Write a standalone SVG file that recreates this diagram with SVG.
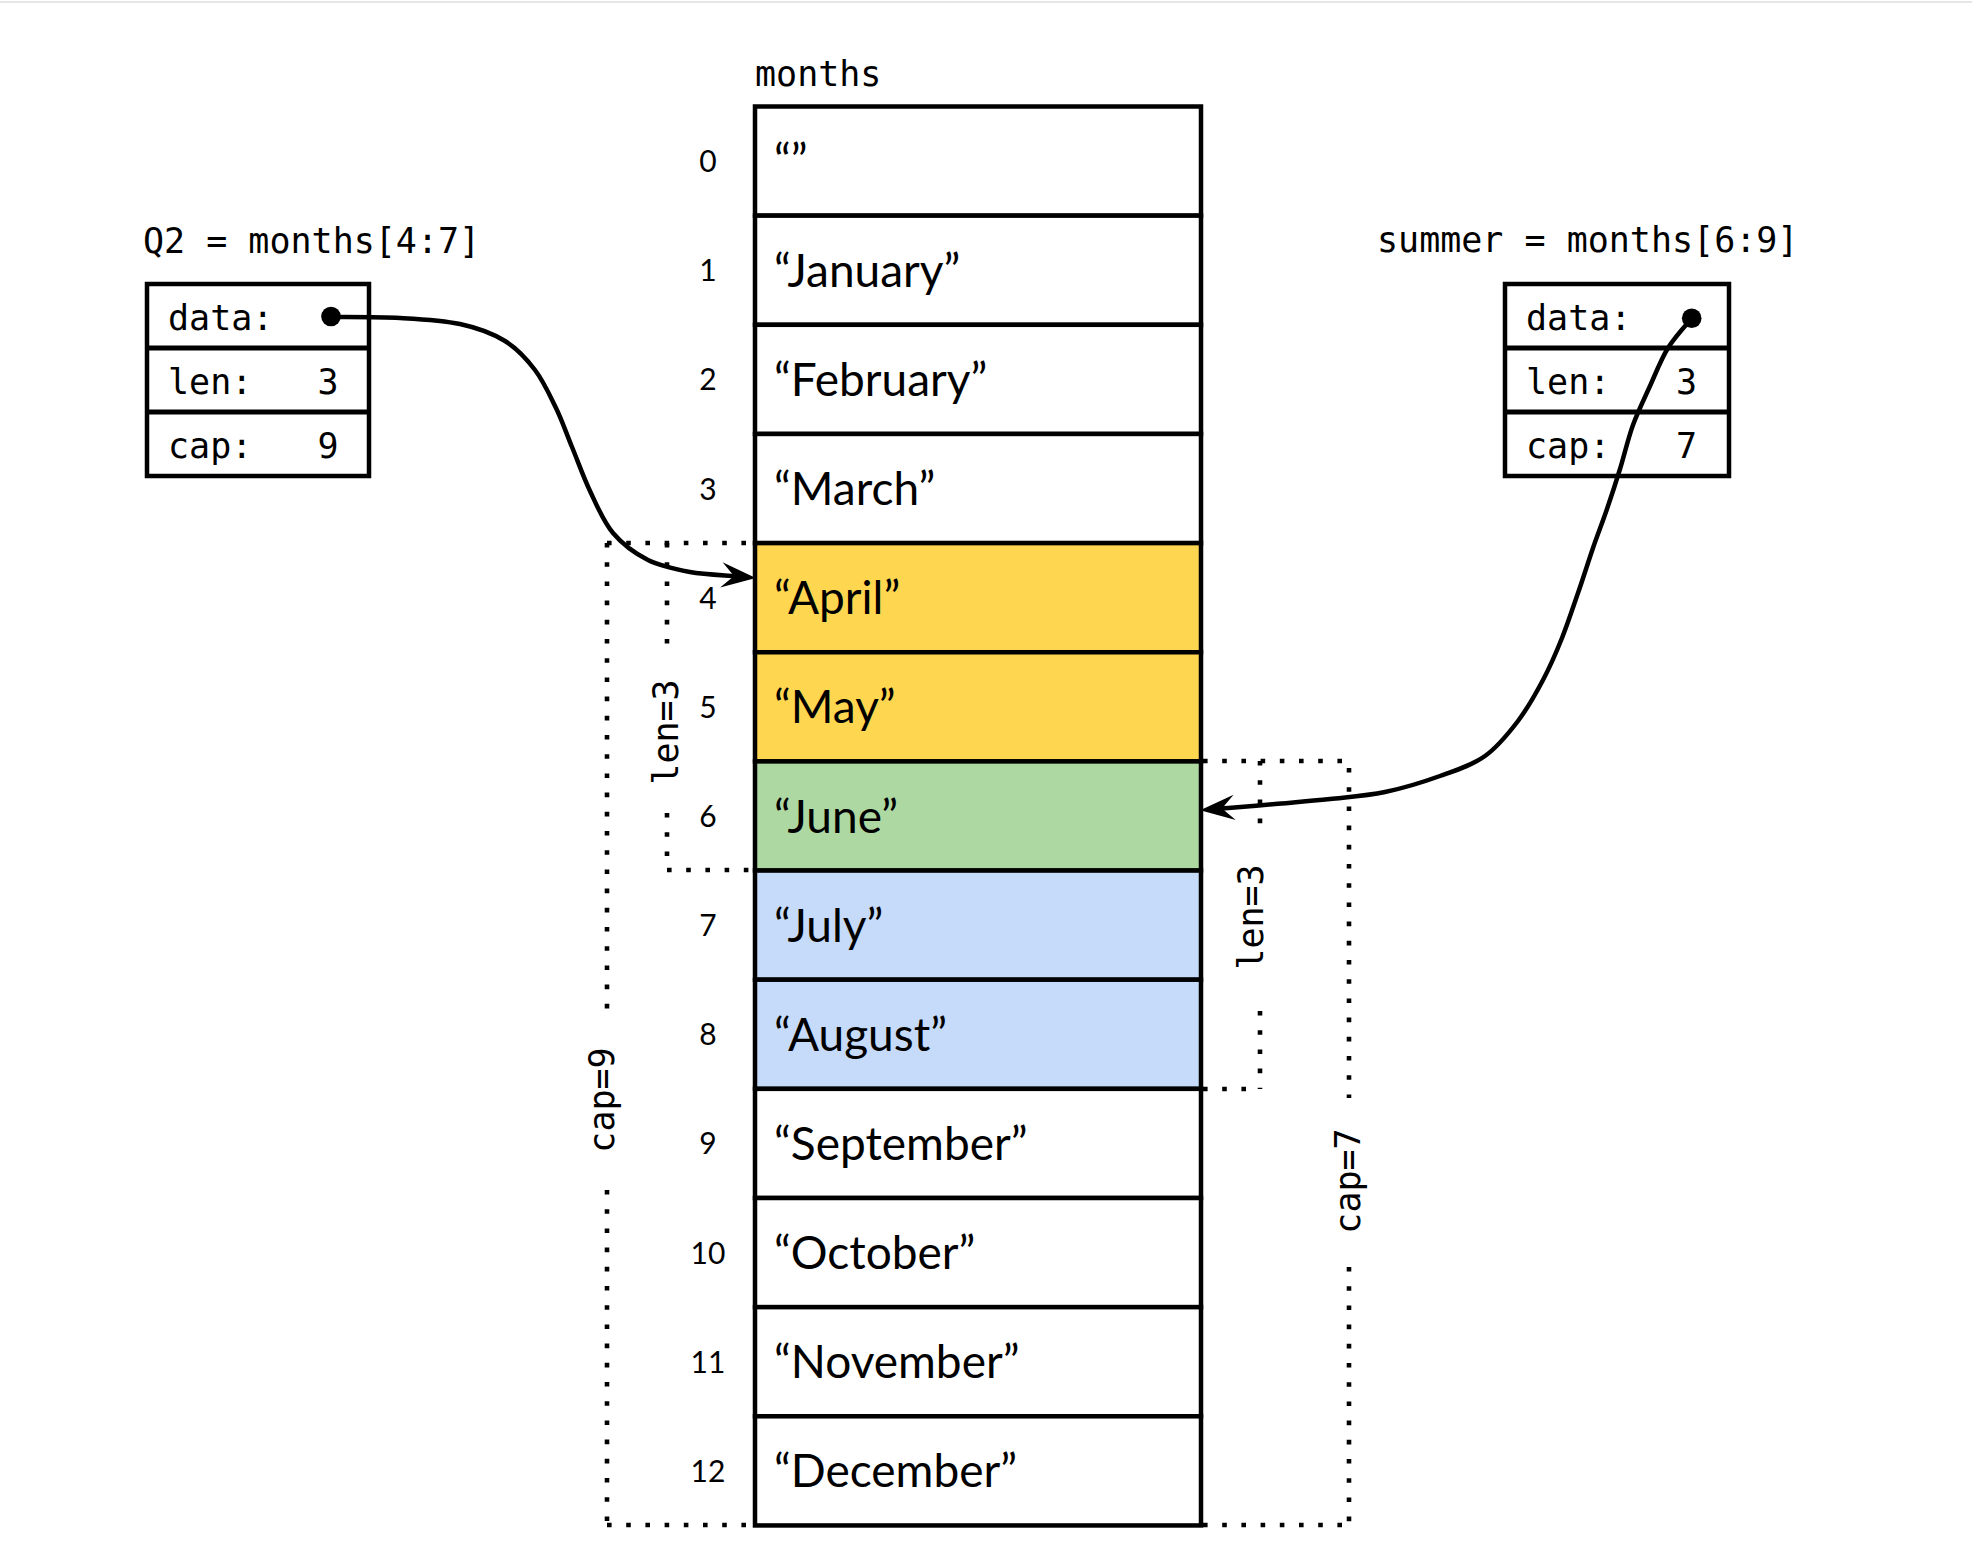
<svg xmlns="http://www.w3.org/2000/svg" width="1972" height="1556" viewBox="0 0 1972 1556">
<style>
.mono{font-family:"DejaVu Sans Mono","Liberation Mono",monospace;font-size:35px;fill:#000}
.lato{font-family:Lato,"Liberation Sans",sans-serif;fill:#000}
.month{font-size:46px}
.idx{font-size:30px;text-anchor:middle}
.cell{stroke:#000;stroke-width:4.5;fill:#fff}
.box{stroke:#000;stroke-width:4.5;fill:#fff}
.dot{fill:none;stroke:#000;stroke-width:4.6;stroke-dasharray:4.6 14.6}
.conn{fill:none;stroke:#000;stroke-width:4.5}
.val{text-anchor:middle}
</style>
<defs>
<marker id="arr" markerUnits="userSpaceOnUse" markerWidth="40" markerHeight="30" viewBox="-12 -13 34 26" refX="0" refY="0" orient="auto">
<path d="M19,0 L-11,-11 L0,0 L-11,11 Z" fill="#000"/>
</marker>
</defs>
<rect x="0" y="0" width="1972" height="1556" fill="#fff"/>
<line x1="0" y1="2" x2="1972" y2="2" stroke="#e6e6e6" stroke-width="2"/>

<g id="months">
<text class="mono" x="755" y="86">months</text>
<g id="row0"><rect class="cell" x="755" y="106.5" width="446" height="109.15"/><text class="lato idx" x="708" y="172">0</text><text class="lato month" x="774" y="177">“”</text></g>
<g id="row1"><rect class="cell" x="755" y="215.65" width="446" height="109.15"/><text class="lato idx" x="708" y="281">1</text><text class="lato month" x="774" y="286.5">“January”</text></g>
<g id="row2"><rect class="cell" x="755" y="324.8" width="446" height="109.15"/><text class="lato idx" x="708" y="390">2</text><text class="lato month" x="774" y="395.5">“February”</text></g>
<g id="row3"><rect class="cell" x="755" y="433.95" width="446" height="109.15"/><text class="lato idx" x="708" y="499.5">3</text><text class="lato month" x="774" y="505">“March”</text></g>
<g id="row4"><rect class="cell" x="755" y="543.1" width="446" height="109.15" style="fill:#FFD64F"/><text class="lato idx" x="708" y="608.7">4</text><text class="lato month" x="774" y="614.2">“April”</text></g>
<g id="row5"><rect class="cell" x="755" y="652.25" width="446" height="109.15" style="fill:#FFD64F"/><text class="lato idx" x="708" y="717.8">5</text><text class="lato month" x="774" y="723.3">“May”</text></g>
<g id="row6"><rect class="cell" x="755" y="761.4" width="446" height="109.15" style="fill:#ADD8A2"/><text class="lato idx" x="708" y="827">6</text><text class="lato month" x="774" y="832.5">“June”</text></g>
<g id="row7"><rect class="cell" x="755" y="870.55" width="446" height="109.15" style="fill:#C6DBF9"/><text class="lato idx" x="708" y="936.1">7</text><text class="lato month" x="774" y="941.6">“July”</text></g>
<g id="row8"><rect class="cell" x="755" y="979.7" width="446" height="109.15" style="fill:#C6DBF9"/><text class="lato idx" x="708" y="1045.3">8</text><text class="lato month" x="774" y="1050.8">“August”</text></g>
<g id="row9"><rect class="cell" x="755" y="1088.85" width="446" height="109.15"/><text class="lato idx" x="708" y="1154.4">9</text><text class="lato month" x="774" y="1159.9">“September”</text></g>
<g id="row10"><rect class="cell" x="755" y="1198" width="446" height="109.15"/><text class="lato idx" x="708" y="1263.6">10</text><text class="lato month" x="774" y="1269.1">“October”</text></g>
<g id="row11"><rect class="cell" x="755" y="1307.15" width="446" height="109.15"/><text class="lato idx" x="708" y="1372.7">11</text><text class="lato month" x="774" y="1378.2">“November”</text></g>
<g id="row12"><rect class="cell" x="755" y="1416.3" width="446" height="109.15"/><text class="lato idx" x="708" y="1481.9">12</text><text class="lato month" x="774" y="1487.4">“December”</text></g>
</g>

<g id="q2">
<text class="mono" x="143" y="253">Q2 = months[4:7]</text>
<rect class="box" x="147" y="284" width="222" height="192"/>
<line x1="147" y1="348" x2="369" y2="348" stroke="#000" stroke-width="5"/>
<line x1="147" y1="412" x2="369" y2="412" stroke="#000" stroke-width="5"/>
<text class="mono" x="168" y="330">data:</text>
<text class="mono" x="168" y="394">len:</text>
<text class="mono val" x="328" y="394">3</text>
<text class="mono" x="168" y="458">cap:</text>
<text class="mono val" x="328" y="458">9</text>
<circle cx="331" cy="316.5" r="9.8" fill="#000"/>
</g>

<g id="summer">
<text class="mono" x="1377" y="252">summer = months[6:9]</text>
<rect class="box" x="1505" y="284" width="224" height="192"/>
<line x1="1505" y1="348" x2="1729" y2="348" stroke="#000" stroke-width="5"/>
<line x1="1505" y1="412" x2="1729" y2="412" stroke="#000" stroke-width="5"/>
<text class="mono" x="1526" y="330">data:</text>
<text class="mono" x="1526" y="394">len:</text>
<text class="mono val" x="1686.5" y="394">3</text>
<text class="mono" x="1526" y="458">cap:</text>
<text class="mono val" x="1686.5" y="458">7</text>
<circle cx="1691.7" cy="318.3" r="9.8" fill="#000"/>
</g>

<g id="q2-extent">
<path class="dot" d="M607,543 H752"/>
<path class="dot" d="M607,543 V1010"/>
<path class="dot" d="M607,1190 V1525"/>
<path class="dot" d="M607,1525 H752"/>
<text class="mono" text-anchor="middle" transform="translate(614,1100) rotate(-90)">cap=9</text>
<path class="dot" d="M667,543 V645"/>
<path class="dot" d="M667,813 V870"/>
<path class="dot" d="M667,870 H752"/>
<text class="mono" text-anchor="middle" transform="translate(678,732) rotate(-90)">len=3</text>
</g>

<g id="summer-extent">
<path class="dot" d="M1203,761 H1342"/>
<path class="dot" d="M1349,768 V1098"/>
<path class="dot" d="M1349,1267 V1525"/>
<path class="dot" d="M1203,1525 H1342"/>
<text class="mono" text-anchor="middle" transform="translate(1360,1181) rotate(-90)">cap=7</text>
<path class="dot" d="M1260,761 V824"/>
<path class="dot" d="M1260,1011 V1089"/>
<path class="dot" d="M1203,1089 H1260"/>
<text class="mono" text-anchor="middle" transform="translate(1263,917) rotate(-90)">len=3</text>
</g>

<g id="connectors">
<path class="conn" marker-end="url(#arr)" d="M331,317 C342.5,317.2 378.5,316.8 400,318 C421.5,319.2 442.5,320.2 460,324 C477.5,327.8 492.5,333.3 505,341 C517.5,348.7 526.5,358.8 535,370 C543.5,381.2 549.8,395.2 556,408 C562.2,420.8 566.3,433.2 572,447 C577.7,460.8 583.2,476.7 590,491 C596.8,505.3 603.3,521.5 613,533 C622.7,544.5 635.2,553.5 648,560 C660.8,566.5 675.7,569.3 690,572 C704.3,574.7 726.7,575.3 734,576"/>
<path class="conn" marker-end="url(#arr)" d="M1692,318 C1688,323 1675,336.7 1668,348 C1661,359.3 1655.8,373.2 1650,386 C1644.2,398.8 1638,411.2 1633,425 C1628,438.8 1624.3,455 1620,469 C1615.7,483 1611.5,495.8 1607,509 C1602.5,522.2 1597.8,534 1593,548 C1588.2,562 1583.2,578 1578,593 C1572.8,608 1567.8,623.5 1562,638 C1556.2,652.5 1550.3,666.2 1543,680 C1535.7,693.8 1527.7,708.3 1518,721 C1508.3,733.7 1498,746.8 1485,756 C1472,765.2 1456.7,770 1440,776 C1423.3,782 1403.3,788.2 1385,792 C1366.7,795.8 1348.3,797 1330,799 C1311.7,801 1293,802.4 1275,804 C1257,805.6 1230.8,807.75 1222,808.5"/>
</g>
</svg>
